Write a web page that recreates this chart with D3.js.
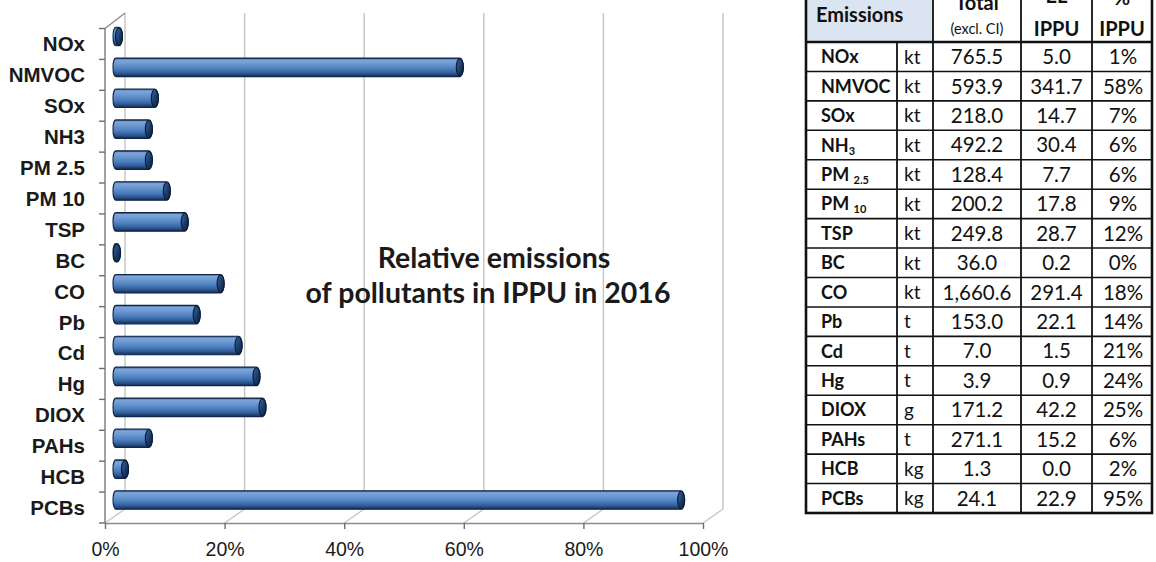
<!DOCTYPE html>
<html>
<head>
<meta charset="utf-8">
<script src="https://cdn.jsdelivr.net/npm/d3@7"></script>
<style>
  html, body { margin: 0; padding: 0; background: #ffffff; }
  svg { display: block; font-family: Lato, "Open Sans", sans-serif; }
</style>
</head>
<body>
<svg id="chart" width="1156" height="562"></svg>
<script>
// Pollutants reported for Industrial Processes and Product Use (IPPU), 2016
const categories = ["NOx", "NMVOC", "SOx", "NH3", "PM 2.5", "PM 10", "TSP", "BC", "CO", "Pb", "Cd", "Hg", "DIOX", "PAHs", "HCB", "PCBs"];
const units = ["kt", "kt", "kt", "kt", "kt", "kt", "kt", "kt", "kt", "t", "t", "t", "g", "t", "kg", "kg"];
const totals = [765.5, 593.9, 218.0, 492.2, 128.4, 200.2, 249.8, 36.0, 1660.6, 153.0, 7.0, 3.9, 171.2, 271.1, 1.3, 24.1];
const ippu = [5.0, 341.7, 14.7, 30.4, 7.7, 17.8, 28.7, 0.2, 291.4, 22.1, 1.5, 0.9, 42.2, 15.2, 0.0, 22.9];
const sharePct = [1, 58, 7, 6, 6, 9, 12, 0, 18, 14, 21, 24, 25, 6, 2, 95];
const xTicks = [0, 0.2, 0.4, 0.6, 0.8, 1.0];
const titleLines = ["Relative emissions", "of pollutants in IPPU in 2016"];
// table row labels with their subscript parts
const tableNames = [["NOx", ""], ["NMVOC", ""], ["SOx", ""], ["NH", "3"], ["PM ", "2.5"], ["PM ", "10"], ["TSP", ""], ["BC", ""], ["CO", ""], ["Pb", ""], ["Cd", ""], ["Hg", ""], ["DIOX", ""], ["PAHs", ""], ["HCB", ""], ["PCBs", ""]];
const headerCols = [["Total", "(excl. CI)"], ["EL", "IPPU"], ["%", "IPPU"]];

const svg = d3.select("#chart");
const defs = svg.append("defs");

// ---- 3D box geometry of the bar chart ----
const front = { left: 105, right: 703, top: 28.5, bottom: 523 };
const depth = { dx: 20, dy: -14 };
const wallTop = 13;

const x = d3.scaleLinear().domain([0, 1]).range([front.left, front.right]);
const xMid = d3.scaleLinear().domain([0, 1]).range([front.left + depth.dx / 2, front.right + depth.dx / 2]);
const y = d3.scaleBand().domain(categories).range([front.top, front.bottom]).padding(0);

const grid = svg.append("g").attr("class", "grid");
// back-wall verticals and floor diagonals
xTicks.forEach(t => {
  const xb = x(t) + depth.dx;
  grid.append("line")
    .attr("x1", xb).attr("x2", xb)
    .attr("y1", wallTop).attr("y2", front.bottom + depth.dy)
    .attr("stroke", "#c4c4c4").attr("stroke-width", 1.4);
  grid.append("line")
    .attr("x1", xb).attr("y1", front.bottom + depth.dy)
    .attr("x2", x(t)).attr("y2", front.bottom)
    .attr("stroke", "#c4c4c4").attr("stroke-width", 1.4);
});
// top edge of the side wall
grid.append("line")
  .attr("x1", front.left).attr("y1", front.top)
  .attr("x2", front.left + depth.dx).attr("y2", wallTop)
  .attr("stroke", "#8a8a8a").attr("stroke-width", 1.4);

// ---- axes ----
const xAxis = d3.axisBottom(x).tickValues(xTicks).tickFormat(d3.format(".0%")).tickSize(6).tickSizeOuter(0);
const gx = svg.append("g").attr("transform", `translate(0,${front.bottom})`).call(xAxis);
gx.select(".domain").attr("stroke", "#8a8a8a").attr("stroke-width", 1.6);
gx.selectAll(".tick line").attr("stroke", "#6e6e6e").attr("stroke-width", 1.4);
gx.selectAll(".tick text")
  .attr("y", 33).attr("dy", 0)
  .attr("fill", "#1a1a1a")
  .style("font-size", "19.5px");

const yAxis = d3.axisLeft(y).tickSize(0).tickPadding(20);
const gy = svg.append("g").attr("transform", `translate(${front.left},0)`).call(yAxis);
gy.select(".domain").remove();
gy.selectAll(".tick text")
  .attr("fill", "#1a1a1a")
  .style("font-size", "20.5px")
  .style("font-weight", "700")
  .attr("dy", "0.36em");

svg.append("line")
  .attr("x1", front.left).attr("x2", front.left)
  .attr("y1", front.top).attr("y2", front.bottom)
  .attr("stroke", "#8a8a8a").attr("stroke-width", 1.6);
// category boundary ticks
const bounds = categories.map(c => y(c)).concat([front.bottom]);
svg.append("g").selectAll("line").data(bounds).join("line")
  .attr("x1", front.left - 6).attr("x2", front.left)
  .attr("y1", d => d).attr("y2", d => d)
  .attr("stroke", "#6e6e6e").attr("stroke-width", 1.4);

// ---- cylinder bars ----
const bodyGrad = defs.append("linearGradient").attr("id", "barBody")
  .attr("x1", 0).attr("y1", 0).attr("x2", 0).attr("y2", 1);
[[0, "#23467a"], [0.1, "#7ea6d9"], [0.3, "#6d99d1"], [0.6, "#4a7cbd"], [0.82, "#2f5a93"], [1, "#122a4e"]]
  .forEach(([o, c]) => bodyGrad.append("stop").attr("offset", o).attr("stop-color", c));
const capGrad = defs.append("linearGradient").attr("id", "barCap")
  .attr("x1", 0).attr("y1", 0).attr("x2", 1).attr("y2", 1);
[[0, "#3c6aa6"], [0.5, "#1d3e6c"], [1, "#0b1d38"]]
  .forEach(([o, c]) => capGrad.append("stop").attr("offset", o).attr("stop-color", c));

const barH = 18.5, ry = barH / 2, capRx = 3.5, leftRx = 3;
const bars = svg.append("g").attr("class", "bars");
categories.forEach((c, i) => {
  const cy = y(c) + y.bandwidth() / 2 - 7.5;
  const x0 = xMid(0) - 2;
  const x1 = Math.max(xMid(sharePct[i] / 100) + 1.5, x0 + leftRx + capRx + 1);
  const top = cy - ry, bot = cy + ry;
  const path = `M${x0 + leftRx},${top} L${x1 - capRx},${top} A${capRx},${ry} 0 0 1 ${x1 - capRx},${bot} L${x0 + leftRx},${bot} A${leftRx},${ry} 0 0 1 ${x0 + leftRx},${top} Z`;
  bars.append("path").attr("d", path)
    .attr("fill", "url(#barBody)")
    .attr("stroke", "#0f264a").attr("stroke-width", 1.1);
  bars.append("ellipse")
    .attr("cx", x1 - capRx).attr("cy", cy)
    .attr("rx", capRx).attr("ry", ry - 0.5)
    .attr("fill", "url(#barCap)")
    .attr("stroke", "#0b1d38").attr("stroke-width", 1.2);
});

// ---- title in the plot area ----
const titleX = [494, 488];
svg.append("g").selectAll("text").data(titleLines).join("text")
  .attr("x", (d, i) => titleX[i])
  .attr("y", (d, i) => 268 + i * 35)
  .attr("text-anchor", "middle")
  .attr("fill", "#1a1a1a")
  .style("font-size", "28.5px")
  .style("font-weight", "700")
  .text(d => d);

// ---- data table ----
const tbl = { left: 806, cols: [806, 897, 933, 1021, 1092, 1152], headTop: -6, headBottom: 42, bottom: 513 };
const rowY = d3.scaleBand().domain(categories).range([tbl.headBottom, tbl.bottom]).padding(0);
const T = svg.append("g").attr("class", "table");

T.append("rect")
  .attr("x", tbl.cols[0]).attr("y", tbl.headTop)
  .attr("width", tbl.cols[2] - tbl.cols[0]).attr("height", tbl.headBottom - tbl.headTop)
  .attr("fill", "#dbe5f1");

// header text
T.append("text").attr("x", 816).attr("y", 15).attr("dy", "0.36em")
  .attr("fill", "#111").style("font-size", "20px").style("font-weight", "700")
  .text("Emissions");
const colCenters = [0, 1, 2, 3, 4].map(k => (tbl.cols[k] + tbl.cols[k + 1]) / 2);
const headBase = [10, 3, 5];
headerCols.forEach((h, k) => {
  const cx = colCenters[k + 2];
  T.append("text").attr("x", cx).attr("y", headBase[k]).attr("text-anchor", "middle")
    .attr("fill", "#111").style("font-size", "20px").style("font-weight", "700").text(h[0]);
  T.append("text").attr("x", cx).attr("y", 29).attr("dy", "0.36em").attr("text-anchor", "middle")
    .attr("fill", "#111")
    .style("font-size", k === 0 ? "14.5px" : "20px")
    .style("font-weight", k === 0 ? "400" : "700")
    .text(h[1]);
});

// body rows
const fmt = d3.format(",.1f");
categories.forEach((c, i) => {
  const cy = rowY(c) + rowY.bandwidth() / 2;
  const nm = T.append("text").attr("x", 821).attr("y", cy).attr("dy", "0.36em")
    .attr("fill", "#111").style("font-size", "18px").style("font-weight", "700");
  nm.append("tspan").text(tableNames[i][0]);
  if (tableNames[i][1]) {
    nm.append("tspan").attr("dy", "0.28em").style("font-size", "11px").text(tableNames[i][1]);
  }
  T.append("text").attr("x", 904).attr("y", cy).attr("dy", "0.36em")
    .attr("fill", "#111").style("font-size", "19px").text(units[i]);
  T.append("text").attr("x", colCenters[2]).attr("y", cy).attr("dy", "0.36em").attr("text-anchor", "middle")
    .attr("fill", "#111").style("font-size", "20.5px").text(fmt(totals[i]));
  T.append("text").attr("x", colCenters[3]).attr("y", cy).attr("dy", "0.36em").attr("text-anchor", "middle")
    .attr("fill", "#111").style("font-size", "20.5px").text(fmt(ippu[i]));
  T.append("text").attr("x", colCenters[4] + 1).attr("y", cy).attr("dy", "0.36em").attr("text-anchor", "middle")
    .attr("fill", "#111").style("font-size", "20.5px").text(sharePct[i] + "%");
});

// grid lines of the table
const rowLines = categories.map(c => rowY(c)).slice(1);
T.selectAll(".hrow").data(rowLines).join("line")
  .attr("x1", tbl.cols[0]).attr("x2", tbl.cols[5])
  .attr("y1", d => d).attr("y2", d => d)
  .attr("stroke", "#111").attr("stroke-width", 1.6);
T.append("line").attr("x1", tbl.cols[0]).attr("x2", tbl.cols[5])
  .attr("y1", tbl.headBottom).attr("y2", tbl.headBottom)
  .attr("stroke", "#111").attr("stroke-width", 2.4);
[2, 3, 4].forEach(k => T.append("line")
  .attr("x1", tbl.cols[k]).attr("x2", tbl.cols[k])
  .attr("y1", tbl.headTop).attr("y2", tbl.bottom)
  .attr("stroke", "#111").attr("stroke-width", 1.8));
T.append("line").attr("x1", tbl.cols[1]).attr("x2", tbl.cols[1])
  .attr("y1", tbl.headBottom).attr("y2", tbl.bottom)
  .attr("stroke", "#111").attr("stroke-width", 1.8);
T.append("rect")
  .attr("x", tbl.cols[0]).attr("y", tbl.headTop)
  .attr("width", tbl.cols[5] - tbl.cols[0]).attr("height", tbl.bottom - tbl.headTop)
  .attr("fill", "none").attr("stroke", "#111").attr("stroke-width", 2.6);
</script>
</body>
</html>
